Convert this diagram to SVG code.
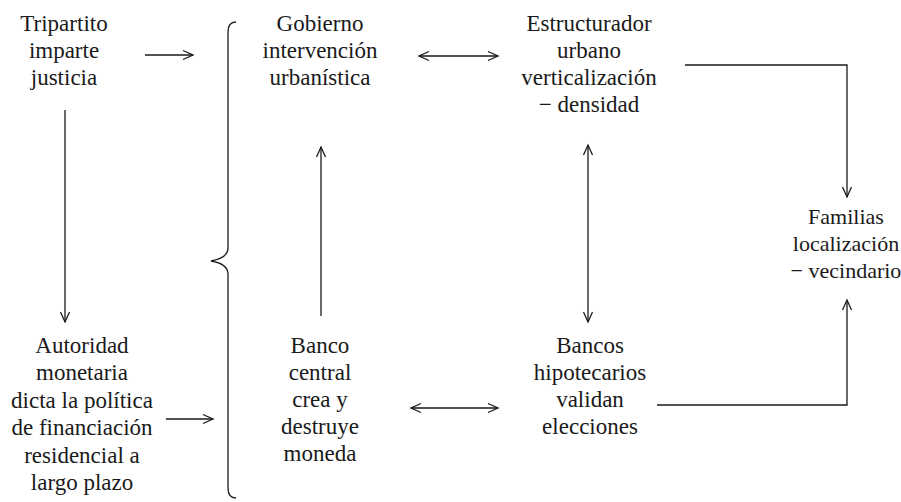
<svg xmlns="http://www.w3.org/2000/svg" width="901" height="502" viewBox="0 0 901 502">
<style>
text{font-family:"Liberation Serif",serif;font-size:23px;fill:#1a1a1a;text-anchor:middle}
#familias text{font-size:22px}
.c{fill:none;stroke:#1a1a1a;stroke-width:1.3}
</style>
<defs>
<marker id="ah" viewBox="-12 -6 14 12" markerWidth="14" markerHeight="12" refX="0" refY="0" orient="auto-start-reverse" markerUnits="userSpaceOnUse">
<path d="M-10,-4.5 L0,0 L-10,4.5" fill="none" stroke="#1a1a1a" stroke-width="1.3"/>
</marker>
</defs>
<rect width="901" height="502" fill="#fff"/>
<g id="tripartito"><text x="64" y="31">Tripartito</text><text x="64" y="58">imparte</text><text x="64" y="85">justicia</text></g>
<g id="gobierno"><text x="320" y="31">Gobierno</text><text x="320" y="58">intervención</text><text x="320" y="85">urbanística</text></g>
<g id="estructurador"><text x="589" y="31">Estructurador</text><text x="589" y="58">urbano</text><text x="589" y="85">verticalización</text><text x="589" y="112">− densidad</text></g>
<g id="familias"><text x="846" y="224">Familias</text><text x="846" y="251">localización</text><text x="846" y="278">− vecindario</text></g>
<g id="autoridad"><text x="82" y="353">Autoridad</text><text x="82" y="380">monetaria</text><text x="82" y="408">dicta la política</text><text x="82" y="435">de financiación</text><text x="82" y="463">residencial a</text><text x="82" y="490">largo plazo</text></g>
<g id="banco-central"><text x="320" y="353">Banco</text><text x="320" y="380">central</text><text x="320" y="407">crea y</text><text x="320" y="434">destruye</text><text x="320" y="461">moneda</text></g>
<g id="bancos"><text x="590" y="353">Bancos</text><text x="590" y="380">hipotecarios</text><text x="590" y="407">validan</text><text x="590" y="434">elecciones</text></g>
<g id="connectors">
<path class="c" d="M236,22 Q228,22 228,32 L228,248 Q228,258 211,261 Q228,264 228,274 L228,488 Q228,498 236,498"/>
<line class="c" x1="145" y1="55" x2="193" y2="55" marker-end="url(#ah)"/>
<line class="c" x1="166" y1="419" x2="213" y2="419" marker-end="url(#ah)"/>
<line class="c" x1="65" y1="110" x2="65" y2="322" marker-end="url(#ah)"/>
<line class="c" x1="419" y1="56" x2="498" y2="56" marker-start="url(#ah)" marker-end="url(#ah)"/>
<line class="c" x1="411" y1="408" x2="498" y2="408" marker-start="url(#ah)" marker-end="url(#ah)"/>
<line class="c" x1="321" y1="316" x2="321" y2="147" marker-end="url(#ah)"/>
<line class="c" x1="588" y1="145" x2="588" y2="322" marker-start="url(#ah)" marker-end="url(#ah)"/>
<polyline class="c" points="685,65 847,65 847,197" marker-end="url(#ah)"/>
<polyline class="c" points="657,405 847,405 847,300" marker-end="url(#ah)"/>
</g>
</svg>
